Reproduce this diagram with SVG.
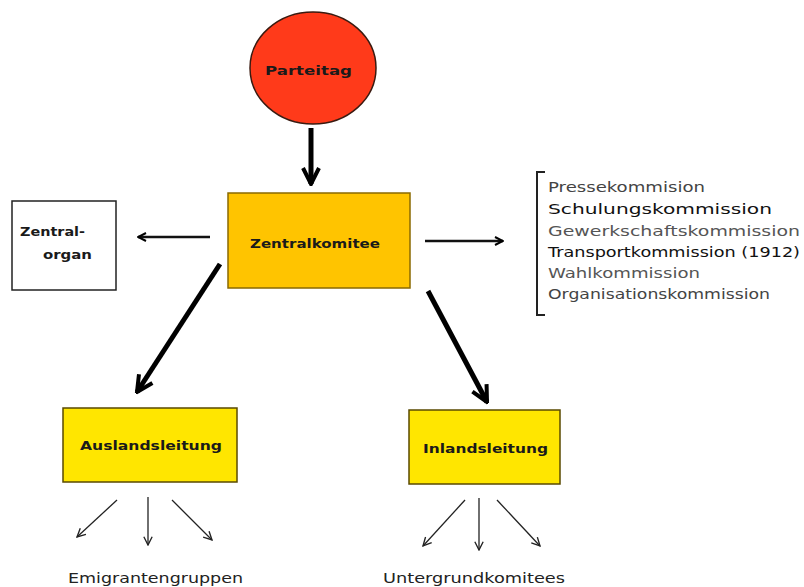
<svg xmlns="http://www.w3.org/2000/svg" width="804" height="587" viewBox="0 0 804 587">
<style>
text{font-family:"DejaVu Sans","Liberation Sans",Arial,sans-serif;}
.lbl{font-size:13px;font-weight:bold;fill:#1a1a1a;}
.lst{font-size:14px;}
.thin{stroke:#111;stroke-width:2.5;fill:none;}
.thick{stroke:#000;stroke-width:5;fill:none;}
.small{stroke:#222;stroke-width:1.3;fill:none;}
</style>
<defs>
<marker id="ah" viewBox="0 0 10 10" refX="9" refY="5" markerWidth="4" markerHeight="4" orient="auto" markerUnits="strokeWidth"><path d="M1,1 L9,5 L1,9" fill="none" stroke="#000" stroke-width="2"/></marker>
<marker id="ahs" viewBox="0 0 10 10" refX="9" refY="5" markerWidth="8" markerHeight="8" orient="auto" markerUnits="strokeWidth"><path d="M1,1 L9,5 L1,9" fill="none" stroke="#222" stroke-width="1.3"/></marker>
</defs>
<rect width="804" height="587" fill="#fff"/>
<g id="connectors">
<line class="thick" x1="311" y1="128" x2="311" y2="184" marker-end="url(#ah)"/>
<line class="thin" x1="210" y1="237" x2="138" y2="237" marker-end="url(#ah)"/>
<line class="thin" x1="425" y1="241" x2="503" y2="241" marker-end="url(#ah)"/>
<line class="thick" x1="220" y1="264" x2="137" y2="392" marker-end="url(#ah)"/>
<line class="thick" x1="428" y1="291" x2="487" y2="402" marker-end="url(#ah)"/>
<line class="small" x1="117" y1="500" x2="77" y2="537" marker-end="url(#ahs)"/>
<line class="small" x1="148" y1="497" x2="148" y2="545" marker-end="url(#ahs)"/>
<line class="small" x1="172" y1="500" x2="212" y2="540" marker-end="url(#ahs)"/>
<line class="small" x1="465" y1="500" x2="423" y2="546" marker-end="url(#ahs)"/>
<line class="small" x1="479" y1="498" x2="479" y2="550" marker-end="url(#ahs)"/>
<line class="small" x1="497" y1="500" x2="540" y2="546" marker-end="url(#ahs)"/>
</g>
<g id="parteitag">
<ellipse cx="313" cy="68" rx="63" ry="56" fill="#FF3A1A" stroke="#3a1a10" stroke-width="1.5"/>
<text class="lbl" x="265" y="75" textLength="87" lengthAdjust="spacingAndGlyphs">Parteitag</text>
</g>
<g id="zentralkomitee">
<rect x="228" y="193" width="182" height="95" fill="#FFC400" stroke="#8a6a00" stroke-width="1.5"/>
<text class="lbl" x="250" y="248" textLength="130" lengthAdjust="spacingAndGlyphs">Zentralkomitee</text>
</g>
<g id="zentralorgan">
<rect x="12" y="201" width="104" height="89" fill="#fff" stroke="#222" stroke-width="1.5"/>
<text class="lbl" x="20" y="236" textLength="65" lengthAdjust="spacingAndGlyphs">Zentral-</text>
<text class="lbl" x="43" y="259" textLength="49" lengthAdjust="spacingAndGlyphs">organ</text>
</g>
<g id="kommissionen">
<path d="M545,172 L537,172 L537,315 L545,315" fill="none" stroke="#222" stroke-width="2"/>
<text class="lst" x="548" y="192" fill="#444" textLength="157" lengthAdjust="spacingAndGlyphs">Pressekommision</text>
<text class="lst" x="548" y="214" fill="#111" textLength="224" lengthAdjust="spacingAndGlyphs">Schulungskommission</text>
<text class="lst" x="548" y="236" fill="#555" textLength="252" lengthAdjust="spacingAndGlyphs">Gewerkschaftskommission</text>
<text class="lst" x="548" y="257" fill="#111" textLength="252" lengthAdjust="spacingAndGlyphs">Transportkommission (1912)</text>
<text class="lst" x="548" y="278" fill="#555" textLength="152" lengthAdjust="spacingAndGlyphs">Wahlkommission</text>
<text class="lst" x="548" y="299" fill="#444" textLength="222" lengthAdjust="spacingAndGlyphs">Organisationskommission</text>
</g>
<g id="auslandsleitung">
<rect x="63" y="408" width="174" height="74" fill="#FFE600" stroke="#5a4a00" stroke-width="1.5"/>
<text class="lbl" x="80" y="450" textLength="142" lengthAdjust="spacingAndGlyphs">Auslandsleitung</text>
</g>
<g id="inlandsleitung">
<rect x="409" y="410" width="151" height="74" fill="#FFE600" stroke="#5a4a00" stroke-width="1.5"/>
<text class="lbl" x="423" y="453" textLength="125" lengthAdjust="spacingAndGlyphs">Inlandsleitung</text>
</g>
<g id="emigrantengruppen">
<text x="68" y="583" font-size="14" fill="#222" textLength="175" lengthAdjust="spacingAndGlyphs">Emigrantengruppen</text>
</g>
<g id="untergrundkomitees">
<text x="383" y="583" font-size="14" fill="#222" textLength="182" lengthAdjust="spacingAndGlyphs">Untergrundkomitees</text>
</g>
</svg>
